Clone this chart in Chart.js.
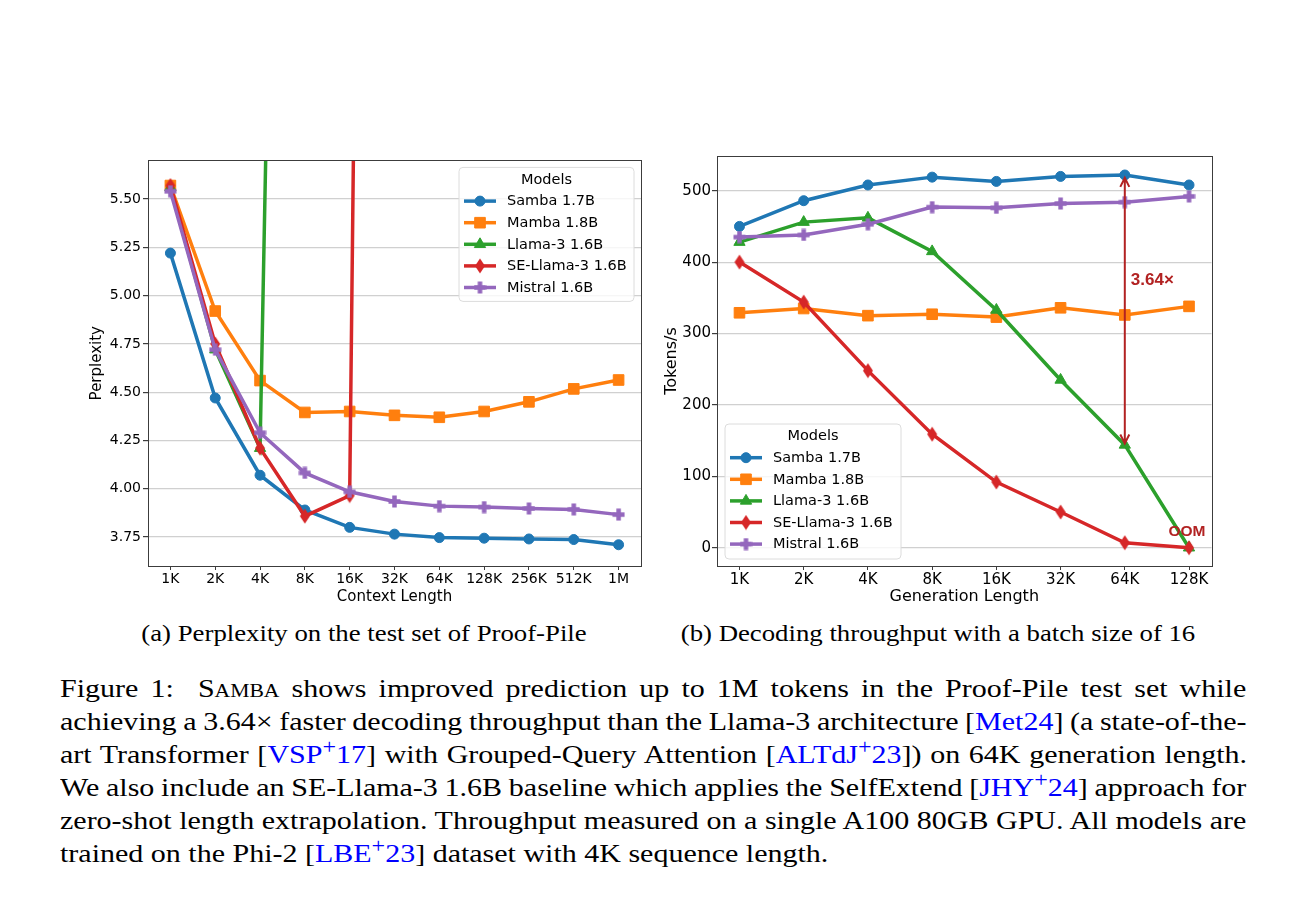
<!DOCTYPE html>
<html>
<head>
<meta charset="utf-8">
<script src="https://cdn.jsdelivr.net/npm/chart.js@4.4.1/dist/chart.umd.min.js"></script>
<style>
  body { margin: 0; background: #fff; width: 1312px; height: 922px; position: relative; overflow: hidden; }
  #ppl { position: absolute; left: 60px; top: 150px; }
  #tps { position: absolute; left: 660px; top: 146px; }
  .sub { position: absolute; top: 620px; width: 600px; text-align: center; white-space: nowrap;
         font-family: "Liberation Serif", serif; font-size: 22.5px; line-height: 28px; color: #000;
         transform: scaleX(1.19); transform-origin: center top; }
  #fig { position: absolute; left: 60px; top: 671.5px; width: 989px; transform: scaleX(1.2); transform-origin: left top;
         font-family: "Liberation Serif", serif; font-size: 25px; line-height: 33px; color: #000; }
  #fig .ln { white-space: nowrap; height: 33px; }
  .sc { font-variant: small-caps; }
  .cite { color: #0000ff; }
  sup { font-size: 0.8em; vertical-align: 0; position: relative; top: -0.45em; line-height: 0; }
</style>
</head>
<body>
<canvas id="ppl" width="600" height="470"></canvas>
<canvas id="tps" width="560" height="474"></canvas>

<div class="sub" style="left:63.5px">(a) Perplexity on the test set of Proof-Pile</div>
<div class="sub" style="left:638px">(b) Decoding throughput with a batch size of 16</div>

<div id="fig">
  <div class="ln"><span>Figure 1:&nbsp; <span class="sc">Samba</span> shows improved prediction up to 1M tokens in the Proof-Pile test set while</span></div>
  <div class="ln"><span>achieving a 3.64× faster decoding throughput than the Llama-3 architecture [<span class="cite">Met24</span>] (a state-of-the-</span></div>
  <div class="ln"><span>art Transformer [<span class="cite">VSP<sup>+</sup>17</span>] with Grouped-Query Attention [<span class="cite">ALTdJ<sup>+</sup>23</span>]) on 64K generation length.</span></div>
  <div class="ln"><span>We also include an SE-Llama-3 1.6B baseline which applies the SelfExtend [<span class="cite">JHY<sup>+</sup>24</span>] approach for</span></div>
  <div class="ln"><span>zero-shot length extrapolation. Throughput measured on a single A100 80GB GPU. All models are</span></div>
  <div class="ln last"><span>trained on the Phi-2 [<span class="cite">LBE<sup>+</sup>23</span>] dataset with 4K sequence length.</span></div>
</div>

<script>
// data
const ctxLabels = ['1K', '2K', '4K', '8K', '16K', '32K', '64K', '128K', '256K', '512K', '1M'];
const genLabels = ['1K', '2K', '4K', '8K', '16K', '32K', '64K', '128K'];
const modelNames = ['Samba 1.7B', 'Mamba 1.8B', 'Llama-3 1.6B', 'SE-Llama-3 1.6B', 'Mistral 1.6B'];
const pplTicks = [3.75, 4.00, 4.25, 4.50, 4.75, 5.00, 5.25, 5.50];
const tpsTicks = [0, 100, 200, 300, 400, 500];

// (a) perplexity
const pplSamba   = [5.22, 4.47, 4.07, 3.89, 3.80, 3.765, 3.747, 3.744, 3.740, 3.737, 3.710];
const pplMamba   = [5.57, 4.92, 4.56, 4.395, 4.40, 4.38, 4.37, 4.40, 4.45, 4.517, 4.563];
const pplLlama3  = [5.56, 4.72, 4.21, 16.1];
const pplSELlama = [5.57, 4.75, 4.21, 3.858, 3.965, 25.1];
const pplMistral = [5.54, 4.72, 4.29, 4.082, 3.984, 3.934, 3.910, 3.905, 3.898, 3.893, 3.866];

// (b) tokens per second
const tpsSamba   = [450, 486, 508, 519, 513, 520, 522, 508];
const tpsMamba   = [329, 335, 325, 327, 323, 336, 326, 338];
const tpsLlama3  = [428, 456, 462, 415, 333, 235, 144, 0];
const tpsSELlama = [400, 344, 248, 159, 92, 50, 7, 0];
const tpsMistral = [435, 438, 453, 477, 476, 482, 484, 492];

// speed-up annotation at 64K
const arrowAt = 6, arrowFrom = 518, arrowTo = 146;
const speedupText = '3.64×', oomText = 'OOM';

const colors = ['#1f77b4', '#ff7f0e', '#2ca02c', '#d62728', '#9467bd'];

// thin diamond and filled plus, like matplotlib 'd' and 'P'
function makeDiamond(color) {
  const c = document.createElement('canvas');
  c.width = 12; c.height = 16;
  const g = c.getContext('2d');
  g.fillStyle = color;
  g.beginPath();
  g.moveTo(6, 0.5); g.lineTo(11, 8); g.lineTo(6, 15.5); g.lineTo(1, 8);
  g.closePath(); g.fill();
  return c;
}
function makePlus(color) {
  const c = document.createElement('canvas');
  c.width = 13; c.height = 13;
  const g = c.getContext('2d');
  g.fillStyle = color;
  g.fillRect(4.25, 0.5, 4.5, 12);
  g.fillRect(0.5, 4.25, 12, 4.5);
  return c;
}

const markers = ['circle', 'rect', 'triangle', makeDiamond(colors[3]), makePlus(colors[4])];
const radii = [5, 7.5, 6.5, 6, 6];

function drawMarker(ctx, style, r, x, y, color) {
  ctx.save();
  ctx.fillStyle = color; ctx.strokeStyle = color; ctx.lineWidth = 1;
  if (typeof style !== 'string') {
    ctx.drawImage(style, x - style.width / 2, y - style.height / 2);
  } else {
    ctx.beginPath();
    if (style === 'circle') {
      ctx.arc(x, y, r, 0, Math.PI * 2);
    } else if (style === 'rect') {
      const h = r * Math.SQRT1_2;
      ctx.rect(x - h, y - h, 2 * h, 2 * h);
    } else {
      for (let k = 0; k < 3; k++) {
        const a = k * 2 * Math.PI / 3;
        const px = x + Math.sin(a) * r, py = y - Math.cos(a) * r;
        if (k === 0) ctx.moveTo(px, py); else ctx.lineTo(px, py);
      }
    }
    ctx.closePath(); ctx.fill(); ctx.stroke();
  }
  ctx.restore();
}

function series(values, i) {
  return {
    label: modelNames[i],
    data: values.map((v, k) => ({ x: k, y: v })),
    borderColor: colors[i],
    backgroundColor: colors[i],
    pointBackgroundColor: colors[i],
    pointBorderColor: colors[i],
    borderWidth: 3.5,
    pointStyle: markers[i],
    pointRadius: radii[i],
    pointBorderWidth: 1,
    tension: 0,
    clip: 0,
    order: 4 - i
  };
}

// box, legend and annotations drawn on the canvas
const framePlugin = {
  id: 'frame',
  afterDatasetsDraw(chart) {
    const { ctx, chartArea: a } = chart;
    ctx.save();
    ctx.strokeStyle = '#3c3c3c';
    ctx.lineWidth = 1;
    ctx.strokeRect(Math.round(a.left) + 0.5, Math.round(a.top) + 0.5,
                   Math.round(a.right - a.left), Math.round(a.bottom - a.top));
    ctx.restore();
  }
};

const legendPlugin = {
  id: 'modelLegend',
  afterDraw(chart, args, o) {
    const { ctx, chartArea: a } = chart;
    const x0 = a.left + o.dx, y0 = a.top + o.dy, w = o.w, h = o.h, r = 4;
    ctx.save();
    ctx.beginPath();
    ctx.moveTo(x0 + r, y0);
    ctx.arcTo(x0 + w, y0, x0 + w, y0 + h, r);
    ctx.arcTo(x0 + w, y0 + h, x0, y0 + h, r);
    ctx.arcTo(x0, y0 + h, x0, y0, r);
    ctx.arcTo(x0, y0, x0 + w, y0, r);
    ctx.closePath();
    ctx.fillStyle = 'rgba(255,255,255,0.8)';
    ctx.fill();
    ctx.strokeStyle = '#dcdcdc';
    ctx.lineWidth = 1;
    ctx.stroke();

    ctx.font = '14.5px "DejaVu Sans"';
    ctx.fillStyle = '#000';
    ctx.textBaseline = 'middle';
    ctx.textAlign = 'center';
    ctx.fillText('Models', x0 + w / 2, y0 + 12.5);
    ctx.textAlign = 'left';
    modelNames.forEach((name, i) => {
      const y = y0 + 33.7 + i * 21.6;
      ctx.strokeStyle = colors[i];
      ctx.lineWidth = 3.5;
      ctx.beginPath();
      ctx.moveTo(x0 + 5, y); ctx.lineTo(x0 + 37, y);
      ctx.stroke();
      drawMarker(ctx, markers[i], radii[i], x0 + 21, y, colors[i]);
      ctx.fillStyle = '#000';
      ctx.fillText(name, x0 + 48, y + 0.5);
    });
    ctx.restore();
  }
};

const speedupPlugin = {
  id: 'speedup',
  afterDatasetsDraw(chart) {
    const { ctx, scales: { x, y } } = chart;
    const ax = x.getPixelForValue(arrowAt);
    const yTop = y.getPixelForValue(arrowFrom), yBot = y.getPixelForValue(arrowTo);
    const red = '#b22222';
    ctx.save();
    ctx.strokeStyle = red;
    ctx.lineWidth = 2;
    ctx.beginPath();
    ctx.moveTo(ax, yTop); ctx.lineTo(ax, yBot);
    ctx.moveTo(ax - 4.5, yTop + 9); ctx.lineTo(ax, yTop); ctx.lineTo(ax + 4.5, yTop + 9);
    ctx.moveTo(ax - 4.5, yBot - 9); ctx.lineTo(ax, yBot); ctx.lineTo(ax + 4.5, yBot - 9);
    ctx.stroke();

    ctx.fillStyle = red;
    ctx.textBaseline = 'middle';
    ctx.font = 'bold 17px "Liberation Sans"';
    ctx.textAlign = 'left';
    ctx.fillText(speedupText, ax + 6, y.getPixelForValue(374.5));
    ctx.font = 'bold 15.5px "Liberation Sans"';
    ctx.textAlign = 'center';
    ctx.fillText(oomText, x.getPixelForValue(genLabels.length - 1) - 2, y.getPixelForValue(22.4));
    ctx.restore();
  }
};

function axisFont(size) {
  return { family: 'DejaVu Sans', size: size };
}

function makeChart(id, cfg) {
  return new Chart(document.getElementById(id), {
    type: 'line',
    data: { datasets: cfg.datasets },
    plugins: cfg.plugins,
    options: {
      responsive: false,
      animation: false,
      devicePixelRatio: 1,
      events: [],
      layout: { padding: cfg.padding },
      plugins: {
        legend: { display: false },
        tooltip: { enabled: false },
        modelLegend: cfg.legend
      },
      scales: {
        x: {
          type: 'linear',
          min: cfg.xMin,
          max: cfg.xMax,
          afterBuildTicks: s => { s.ticks = cfg.labels.map((_, k) => ({ value: k })); },
          afterFit: s => { s.height = 54; },
          border: { display: false },
          grid: { drawOnChartArea: false, tickLength: 4, tickColor: '#3c3c3c' },
          ticks: {
            callback: v => cfg.labels[v],
            autoSkip: false, maxRotation: 0,
            font: axisFont(cfg.tickSize), color: '#000', padding: 1
          },
          title: {
            display: true, text: cfg.xTitle, color: '#000',
            font: axisFont(cfg.titleSize), padding: { top: 0, bottom: 14 }
          }
        },
        y: {
          min: cfg.yMin,
          max: cfg.yMax,
          afterBuildTicks: s => { s.ticks = cfg.yTicks.map(v => ({ value: v })); },
          afterFit: s => { s.width = cfg.yWidth; },
          border: { display: false },
          grid: { color: '#d0d0d0', lineWidth: 1.2, tickLength: 5, tickColor: '#3c3c3c' },
          ticks: {
            callback: cfg.yFormat,
            font: axisFont(cfg.tickSize), color: '#000', padding: cfg.yPad
          },
          title: {
            display: true, text: cfg.yTitle, color: '#000',
            font: axisFont(cfg.titleSize), padding: { top: cfg.yTitlePad, bottom: 0 }
          }
        }
      }
    }
  });
}

makeChart('ppl', {
  datasets: [series(pplSamba, 0), series(pplMamba, 1), series(pplLlama3, 2), series(pplSELlama, 3), series(pplMistral, 4)],
  plugins: [framePlugin, legendPlugin],
  legend: { dx: 311, dy: 7, w: 175, h: 134 },
  padding: { left: 0, top: 10, right: 19, bottom: 0 },
  labels: ctxLabels,
  xMin: -0.5, xMax: ctxLabels.length - 0.5,
  yMin: 3.60, yMax: 5.70,
  yTicks: pplTicks,
  yFormat: v => v.toFixed(2),
  yWidth: 88, yPad: 2, yTitlePad: 28,
  tickSize: 14, titleSize: 15,
  xTitle: 'Context Length', yTitle: 'Perplexity'
});

makeChart('tps', {
  datasets: [series(tpsSamba, 0), series(tpsMamba, 1), series(tpsLlama3, 2), series(tpsSELlama, 3), series(tpsMistral, 4)],
  plugins: [framePlugin, speedupPlugin, legendPlugin],
  legend: { dx: 8, dy: 268, w: 176, h: 135 },
  padding: { left: 0, top: 10, right: 5, bottom: 0 },
  labels: genLabels,
  xMin: -0.35, xMax: genLabels.length - 1 + 0.35,
  yMin: -25.6, yMax: 548.6,
  yTicks: tpsTicks,
  yFormat: v => String(v),
  yWidth: 57, yPad: 1, yTitlePad: 2,
  tickSize: 15, titleSize: 16,
  xTitle: 'Generation Length', yTitle: 'Tokens/s'
});

// stretch the word gaps so every caption line but the last fills the column
function justifyLines() {
  const full = 989;
  document.querySelectorAll('#fig .ln').forEach(ln => {
    if (ln.classList.contains('last')) return;
    const span = ln.firstElementChild;
    span.style.wordSpacing = '0px';
    const natural = span.offsetWidth;
    const gaps = (span.textContent.match(/[ \u00a0]/g) || []).length;
    if (gaps) span.style.wordSpacing = ((full - natural) / gaps) + 'px';
  });
}
document.fonts.ready.then(justifyLines);
justifyLines();
</script>
</body>
</html>
